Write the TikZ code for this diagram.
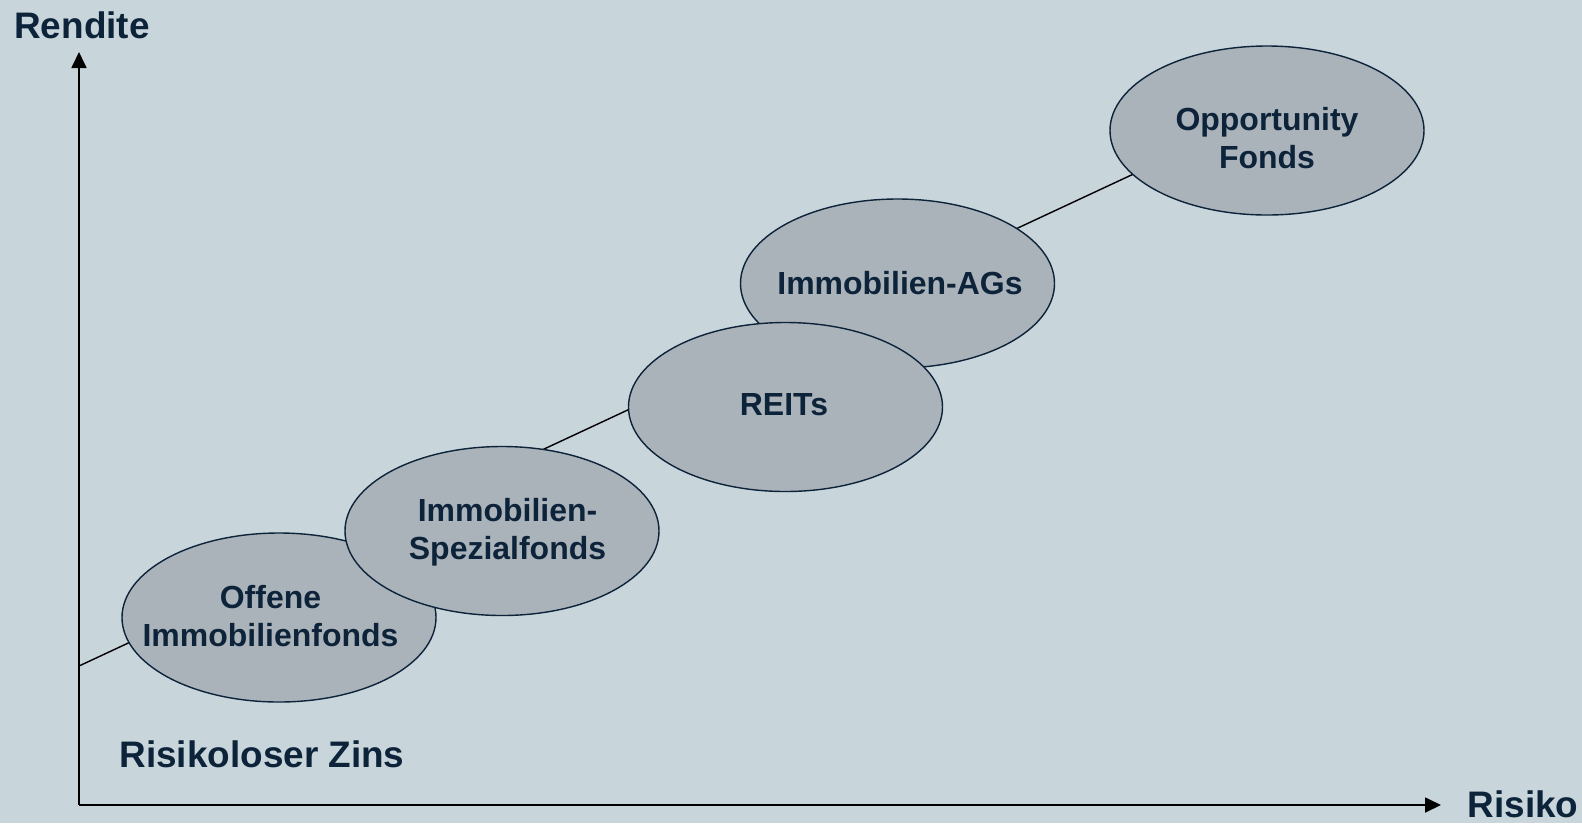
\documentclass[tikz,border=0pt]{standalone}
\usepackage{fontspec}
\setmainfont{Liberation Sans}
\usetikzlibrary{shapes.geometric,arrows.meta}
\definecolor{paper}{HTML}{C8D5DB}
\definecolor{fundgray}{HTML}{ABB3BA}
\definecolor{ink}{HTML}{0D233A}
\tikzset{
  fund/.style={ellipse,draw=ink,fill=fundgray,line width=0.8pt,inner sep=0pt,
    minimum width=62.8mm,minimum height=33.8mm},
  fundtext/.style={text=ink,font=\bfseries\fontsize{18.2}{21.8}\selectfont,align=center},
  axislabel/.style={text=ink,font=\bfseries\fontsize{21}{25}\selectfont},
}

\begin{document}
\begin{tikzpicture}[x=0.2mm,y=-0.2mm,>={Triangle[length=3.2mm,width=3mm]}]
\fill[paper] (0,0) rectangle (1582,823);
\useasboundingbox (0,0) rectangle (1582,823);
% axes
\coordinate (origin) at (79,805);
\coordinate (ytip) at (79,52);
\coordinate (xtip) at (1441,805);
\draw[->,line width=1pt] (origin) -- (ytip);
\draw[->,line width=1pt] (origin) -- (xtip);
\node[axislabel] (rendite) at (82,25) {Rendite};
\node[axislabel] (risiko) at (1523,804) {Risiko};
\node[axislabel] (zins) at (262,754) {Risikoloser Zins};
% risk/return line, behind the funds
\coordinate (rf) at (79,666);
\coordinate (top) at (1200,143);
\draw[line width=0.8pt] (rf) -- (top);
% funds
\node[fund,label={[fundtext,xshift=-1.7mm,yshift=0.3mm]center:Offene\\Immobilienfonds}] (offene) at (279,617.5) {};
\node[fund,label={[fundtext,xshift=1.1mm,yshift=-0.3mm]center:Immobilien-\\Spezialfonds}] (spezial) at (502,531) {};
\node[fund,label={[fundtext,xshift=0.5mm]center:Immobilien-AGs}] (ags) at (897.5,283.5) {};
\node[fund,label={[fundtext,xshift=-0.3mm,yshift=0.5mm]center:REITs}] (reits) at (785.5,407) {};
\node[fund,label={[fundtext,yshift=-1.5mm]center:Opportunity\\Fonds}] (opp) at (1267,130.5) {};
\end{tikzpicture}
\end{document}
